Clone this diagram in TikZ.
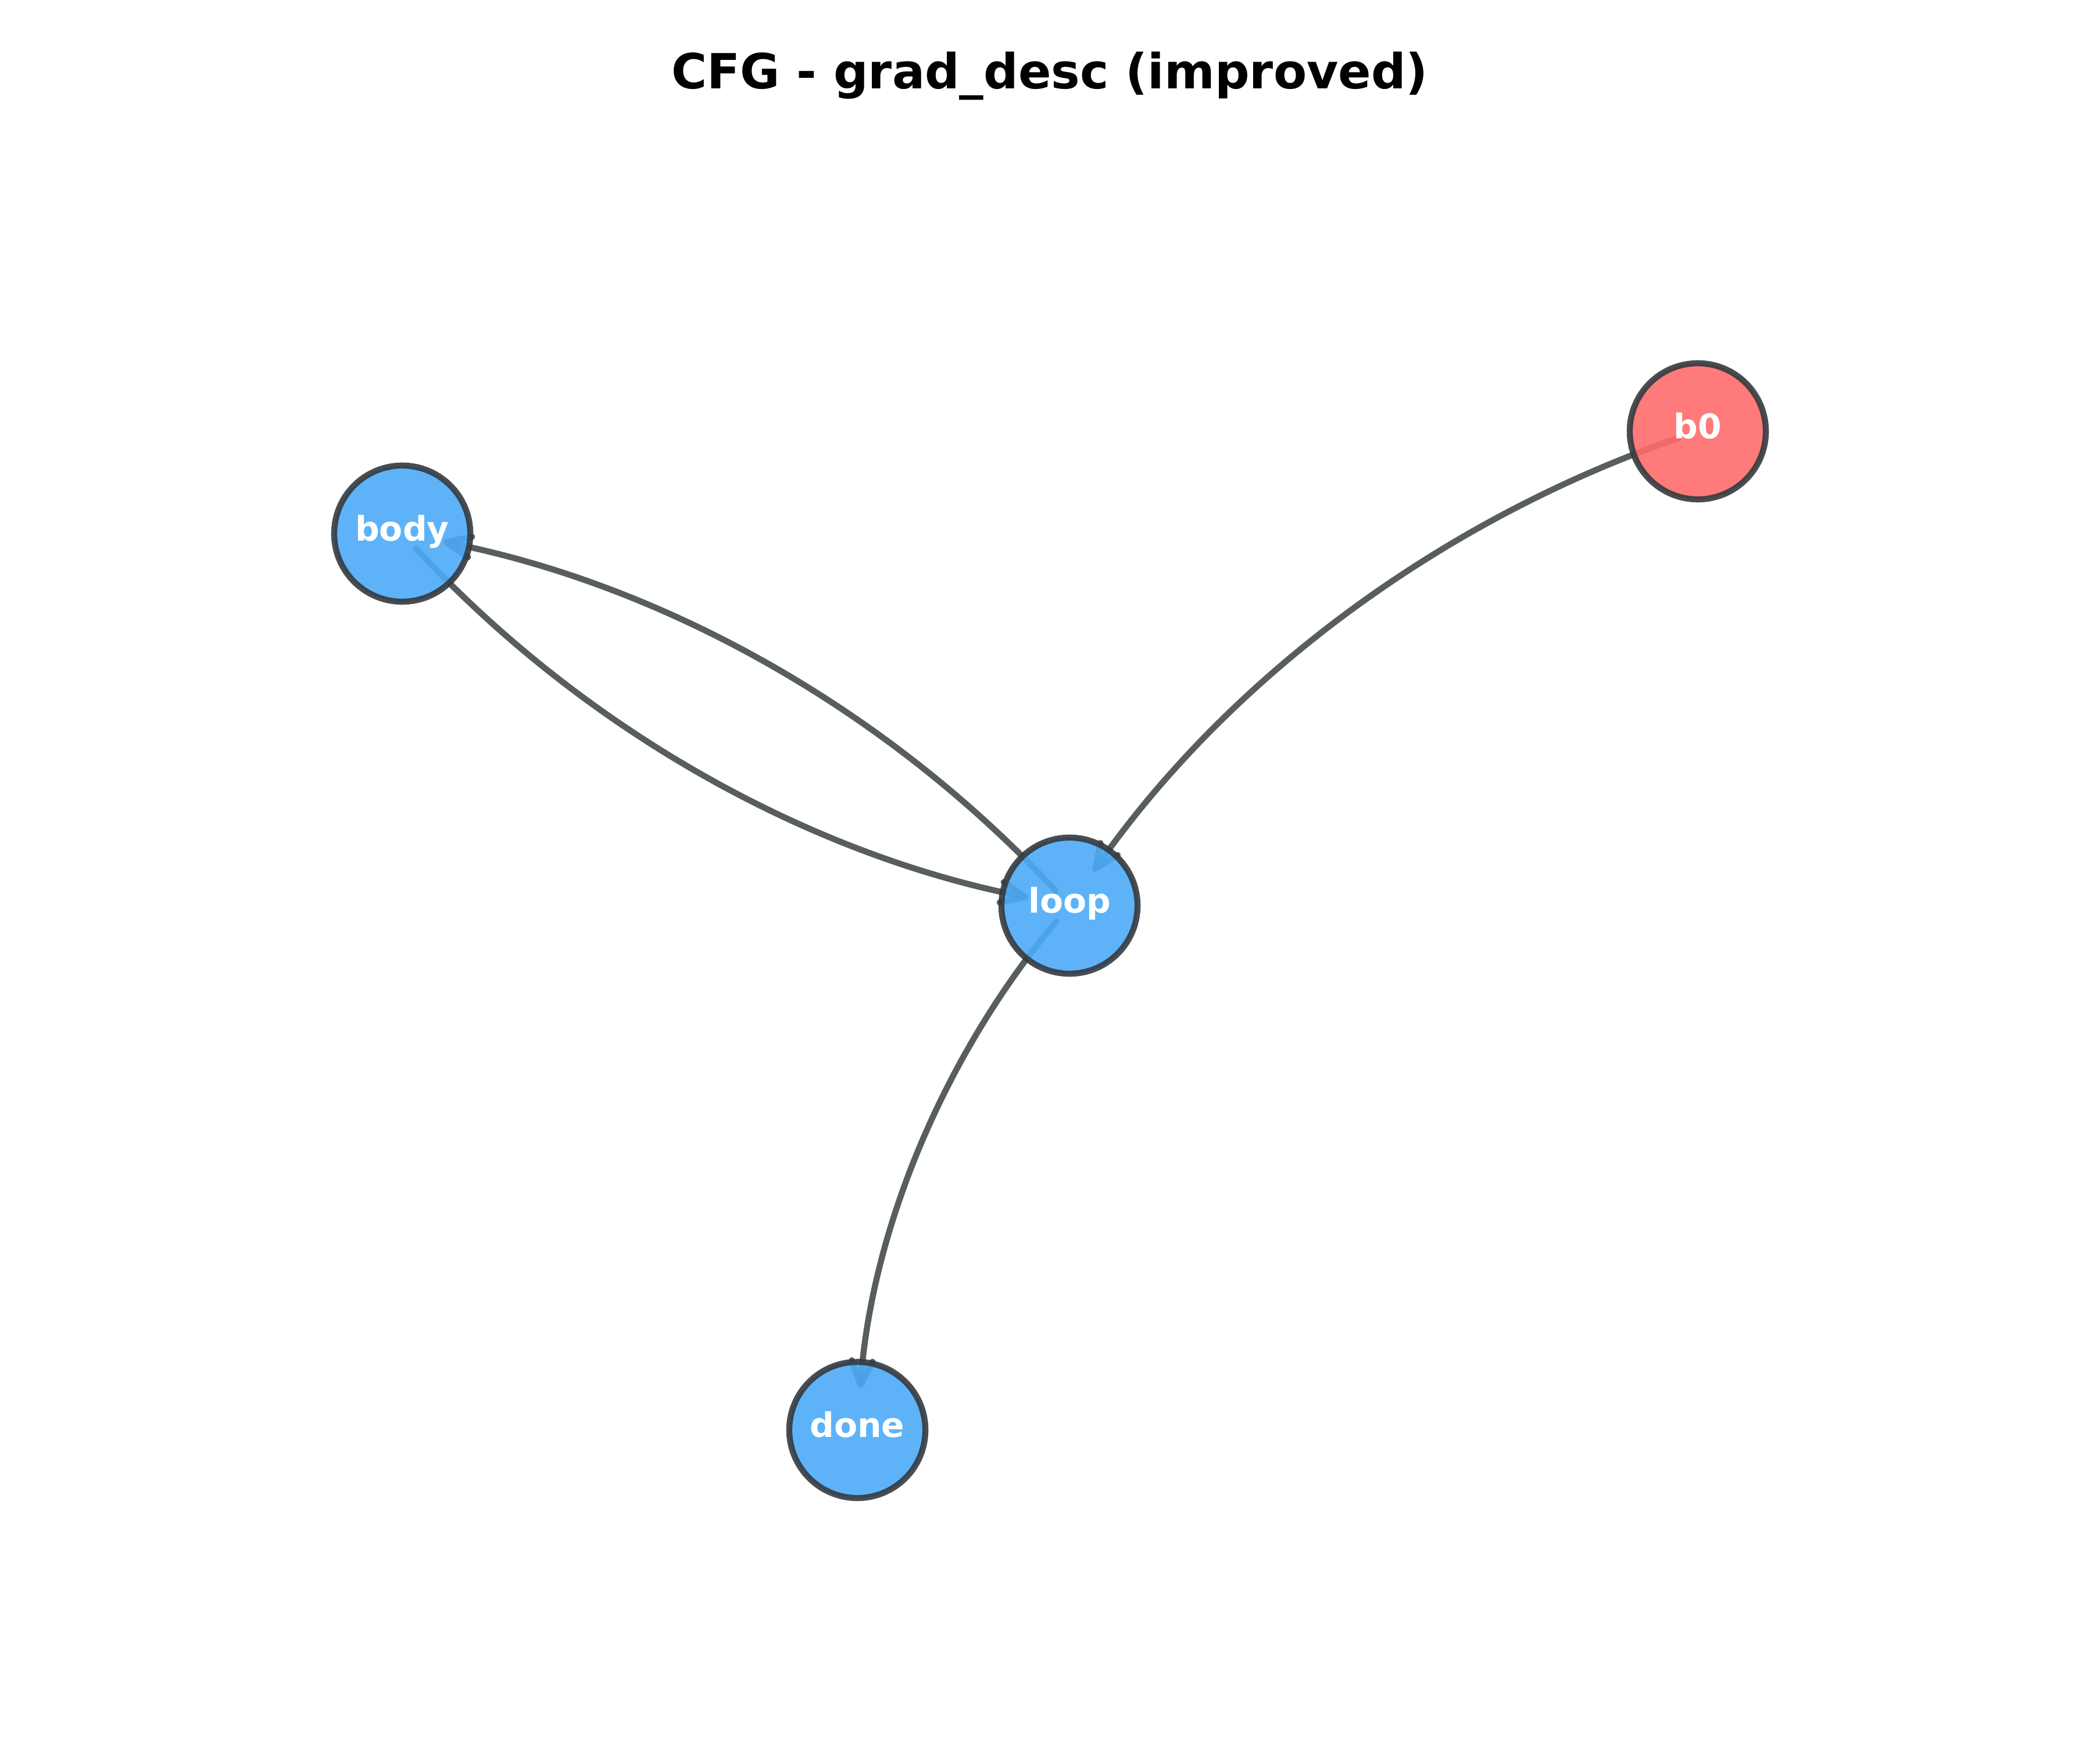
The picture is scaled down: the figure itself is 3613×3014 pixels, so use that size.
\documentclass[tikz,border=0pt]{standalone}
\usepackage{fontspec}
\setmainfont{DejaVu Sans}
\usetikzlibrary{arrows.meta}
\definecolor{nodeblue}{HTML}{4DABF7}
\definecolor{nodered}{HTML}{FF6B6B}
\definecolor{ringcol}{HTML}{343A40}
\definecolor{edgecol}{RGB}{70,76,79}
\pgfdeclarelayer{edgelayer}
\pgfsetlayers{edgelayer,main}
\begin{document}
\begin{tikzpicture}[x=0.24pt,y=-0.24pt,
  cfgnode/.style={circle, minimum size=56.2pt, inner sep=0pt, line width=2.5pt,
    draw=ringcol, draw opacity=0.9, fill opacity=0.9, text opacity=1, text=white,
    font=\fontsize{14}{16}\selectfont\bfseries, text height=0.76em, text depth=0.18em},
  cfgedge/.style={draw=edgecol, draw opacity=0.9, line width=2.5pt, line cap=round,
    -{Straight Barb[length=10pt,width=8.6pt,line join=round,line cap=round]},
    shorten <=8.4pt, shorten >=17.3pt},
  bendarc/.style={bend right=18, looseness=0.895}]
\useasboundingbox (0,0) rectangle (3613,3014);
\node[font=\fontsize{20}{24}\selectfont\bfseries, anchor=base] (title) at (1806,153) {CFG - grad\_desc (improved)};
\node[cfgnode, fill=nodered] (b0) at (2921,742) {b0};
\node[cfgnode, fill=nodeblue] (body) at (692,918) {body};
\node[cfgnode, fill=nodeblue] (loop) at (1840,1558) {loop};
\node[cfgnode, fill=nodeblue] (done) at (1475,2460) {done};
\begin{pgfonlayer}{edgelayer}
\draw[cfgedge] (b0.center) to[bendarc] (loop.center);
\draw[cfgedge] (loop.center) to[bendarc] (body.center);
\draw[cfgedge] (body.center) to[bendarc] (loop.center);
\draw[cfgedge] (loop.center) to[bendarc] (done.center);
\end{pgfonlayer}
\end{tikzpicture}
\end{document}
